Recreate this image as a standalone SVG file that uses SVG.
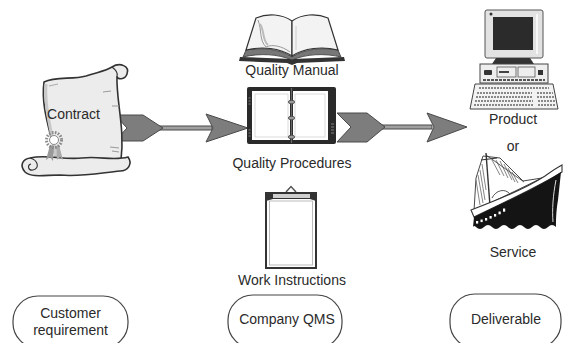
<svg xmlns="http://www.w3.org/2000/svg" width="563" height="343" viewBox="0 0 563 343">
<style>
text{font-family:"Liberation Sans",Arial,sans-serif;font-size:14px;fill:#2a2a2a;text-anchor:middle}
.arrow{fill:#7d7d7d;stroke:#4a4a4a;stroke-width:1}
.shaft{fill:#a0a0a0;stroke:#4a4a4a;stroke-width:1}
.pill{fill:#fff;stroke:#444;stroke-width:1.2}
</style>
<rect width="563" height="343" fill="#fff"/>

<g id="connectors">
  <g id="arrow-contract-qms">
    <rect class="shaft" x="158" y="126" width="54" height="4"/>
    <polygon class="arrow" points="115,115 143,115 163,128 143,141 115,141 127,128"/>
    <polygon class="arrow" points="206,114 248,128 206,142 213,128"/>
  </g>
  <g id="arrow-qms-deliverable">
    <rect class="shaft" x="380" y="125" width="52" height="4"/>
    <polygon class="arrow" points="337,113 367,113 385,127 367,142 337,142 351,127"/>
    <polygon class="arrow" points="427,113 467,127 427,142 434,127"/>
  </g>
</g>

<g id="node-contract">
  <path d="M44,82 C56,76 72,80 86,76 C98,72 106,71 112,67 C120,62 130,66 127,74 C125,80 117,80 117,76 C116,100 125,128 121,160 L56,162 C54,140 40,110 44,82 Z" fill="#ececec" stroke="#333" stroke-width="1.6"/>
  <path d="M46,84 C44,110 54,140 56,160" fill="none" stroke="#c8c8c8" stroke-width="3"/>
  <path d="M112,67 C116,70 118,73 117,76" fill="none" stroke="#333" stroke-width="1.2"/>
  <path d="M30,158 C46,154 62,160 82,158 C100,156 114,161 128,157 C133,164 128,171 120,171 C100,173 80,177 60,175 C45,175 32,178 25,172 C19,165 23,159 30,158 Z" fill="#ececec" stroke="#333" stroke-width="1.6"/>
  <path d="M30,158 C38,160 40,168 33,170 C28,171 27,165 31,164" fill="none" stroke="#333" stroke-width="1.1"/>
  <line x1="103" y1="92" x2="111" y2="91" stroke="#999" stroke-width="1"/>
  <line x1="112" y1="106" x2="119" y2="106" stroke="#999" stroke-width="1"/>
  <line x1="110" y1="147" x2="119" y2="148" stroke="#999" stroke-width="1"/>
  <line x1="112" y1="151" x2="119" y2="152" stroke="#999" stroke-width="1"/>
  <line x1="49" y1="86" x2="58" y2="84" stroke="#aaa" stroke-width="1"/>
  <polygon points="50,145 46,160 50,157 53,161 54,146" fill="#999"/>
  <polygon points="56,146 57,160 60,157 63,160 59,145" fill="#aaa"/>
  <circle cx="54" cy="140" r="7.5" fill="none" stroke="#8a8a8a" stroke-width="3" stroke-dasharray="1.6 1.4"/>
  <circle cx="54" cy="140" r="4.5" fill="#fff" stroke="#888" stroke-width="1"/>
  <text x="73.5" y="119">Contract</text>
</g>

<g id="node-quality-manual">
  <path d="M240,57 L292,59 L344,57 L345,61 L297,63 L292,65 L287,63 L239,61 Z" fill="#333"/>
  <path d="M246,50 C262,47 280,49 292,57 C304,49 322,47 338,50 L341,57 C324,53 306,54 292,60 C278,54 260,53 243,57 Z" fill="#777" stroke="#333" stroke-width="0.8"/>
  <path d="M256,18 C268,13 282,14 292,21 L292,56 C280,48 262,46 246,50 Z" fill="#f3f3f3" stroke="#333" stroke-width="1.2"/>
  <path d="M328,18 C316,13 302,14 292,21 L292,56 C304,48 322,46 338,50 Z" fill="#f3f3f3" stroke="#333" stroke-width="1.2"/>
  <path d="M258,20 C262,30 259,40 266,47 C272,44 282,46 290,52" fill="none" stroke="#999" stroke-width="1"/>
  <path d="M260,24 C265,32 262,40 268,45" fill="none" stroke="#bbb" stroke-width="2"/>
  <line x1="296" y1="26" x2="296" y2="50" stroke="#ccc" stroke-width="1"/>
  <text x="292" y="75">Quality Manual</text>
</g>

<g id="node-quality-procedures">
  <rect x="247" y="87" width="89" height="57" rx="2" fill="#2a2a2a"/>
  <rect x="252" y="91" width="38" height="49" fill="#fff"/>
  <rect x="293" y="91" width="35" height="49" fill="#fff"/>
  <rect x="255" y="94" width="33" height="43" fill="none" stroke="#c4c4c4" stroke-width="0.6"/>
  <rect x="295" y="94" width="30" height="43" fill="none" stroke="#c4c4c4" stroke-width="0.6"/>
  <line x1="291.5" y1="88" x2="291.5" y2="143" stroke="#666" stroke-width="1.2"/>
  <g fill="#9a9a9a" stroke="#444" stroke-width="0.8">
    <ellipse cx="291.5" cy="102" rx="3.2" ry="1.8"/>
    <ellipse cx="291.5" cy="118" rx="3.2" ry="1.8"/>
    <ellipse cx="291.5" cy="137" rx="3.2" ry="1.8"/>
  </g>
  <g stroke="#9a9a9a" stroke-width="0.8">
    <line x1="248.5" y1="98" x2="250.5" y2="98"/><line x1="248.5" y1="101" x2="250.5" y2="101"/><line x1="248.5" y1="104" x2="250.5" y2="104"/>
    <line x1="248.5" y1="130" x2="250.5" y2="130"/><line x1="248.5" y1="133" x2="250.5" y2="133"/><line x1="248.5" y1="136" x2="250.5" y2="136"/>
    <line x1="331" y1="124" x2="334" y2="124"/><line x1="331" y1="127" x2="334" y2="127"/><line x1="331" y1="130" x2="334" y2="130"/><line x1="331" y1="133" x2="334" y2="133"/>
  </g>
  <text x="292" y="168">Quality Procedures</text>
</g>

<g id="node-work-instructions">
  <path d="M286,192 L291,186.5 L296,192" fill="none" stroke="#555" stroke-width="1.5"/>
  <rect x="266" y="193" width="50" height="75" fill="#fff" stroke="#333" stroke-width="2"/>
  <path d="M266,193 L316,193 L316,201 L310,199 L273,199 L266,201 Z" fill="#333"/>
  <rect x="273" y="194" width="37" height="4" fill="#cfcfcf"/>
  <rect x="269.5" y="201" width="43" height="64" fill="#fff" stroke="#aaa" stroke-width="0.8"/>
  <text x="292" y="285">Work Instructions</text>
</g>

<g id="node-product">
  <rect x="485" y="10" width="58" height="48" rx="2" fill="#e2e2e2" stroke="#555" stroke-width="1"/>
  <rect x="493" y="17" width="40" height="33" fill="#2b2b2b"/>
  <circle cx="491" cy="14" r="1.5" fill="#333"/>
  <line x1="537" y1="14" x2="537" y2="54" stroke="#fff" stroke-width="1.5"/>
  <path d="M496,58 L530,58 L534,64 L492,64 Z" fill="#333"/>
  <rect x="480" y="64" width="68" height="19" fill="#eee" stroke="#444" stroke-width="1"/>
  <rect x="484" y="70" width="8" height="5" rx="1" fill="#333"/>
  <rect x="497" y="67" width="19" height="10" fill="none" stroke="#555" stroke-width="0.8"/>
  <rect x="499" y="71" width="10" height="2" fill="#444"/>
  <rect x="518" y="67" width="17" height="10" fill="none" stroke="#555" stroke-width="0.8"/>
  <rect x="538" y="70" width="5" height="5" fill="#333"/>
  <line x1="483" y1="80" x2="545" y2="80" stroke="#555" stroke-width="2" stroke-dasharray="3 1"/>
  <path d="M475,84 L553,84 L558,109 L470,109 Z" fill="#f2f2f2" stroke="#444" stroke-width="1"/>
  <g stroke="#666" stroke-width="1.6" stroke-dasharray="2 1">
    <line x1="479" y1="88" x2="549" y2="88"/>
    <line x1="477" y1="93" x2="532" y2="93"/>
    <line x1="476" y1="97" x2="532" y2="97"/>
    <line x1="475" y1="101" x2="533" y2="101"/>
    <line x1="474" y1="105" x2="533" y2="105"/>
    <line x1="537" y1="93" x2="553" y2="93"/>
    <line x1="537" y1="97" x2="554" y2="97"/>
    <line x1="538" y1="101" x2="555" y2="101"/>
    <line x1="538" y1="105" x2="556" y2="105"/>
  </g>
  <text x="513" y="124">Product</text>
</g>

<text id="label-or" x="513" y="151">or</text>

<g id="node-service">
  <path d="M474,211 L476,178 L483,156 L500,158 L523,181 L542,178 Z" fill="#fff" stroke="#333" stroke-width="0.9"/>
  <g stroke="#666" stroke-width="0.8">
    <line x1="476" y1="180" x2="480" y2="205"/>
    <line x1="478" y1="175" x2="483" y2="203"/>
    <line x1="480" y1="170" x2="485" y2="200"/>
    <line x1="482" y1="164" x2="486" y2="190"/>
    <line x1="492" y1="160" x2="500" y2="175"/>
    <line x1="496" y1="160" x2="504" y2="176"/>
    <line x1="500" y1="161" x2="508" y2="178"/>
    <line x1="504" y1="164" x2="512" y2="180"/>
    <line x1="508" y1="168" x2="515" y2="182"/>
    <line x1="512" y1="172" x2="518" y2="183"/>
  </g>
  <line x1="486" y1="153" x2="490" y2="206" stroke="#333" stroke-width="1.4"/>
  <line x1="481" y1="160" x2="497" y2="158" stroke="#333" stroke-width="1.2"/>
  <line x1="486" y1="155" x2="524" y2="182" stroke="#333" stroke-width="0.8"/>
  <path d="M492,198 C496,190 505,188 510,194" fill="none" stroke="#555" stroke-width="1"/>
  <path d="M471,210 C495,201 525,189 545,176 C552,171 558,167 562,165 L562,172 C545,183 510,200 474,217 Z" fill="#fff" stroke="#333" stroke-width="1.1"/>
  <path d="M474,217 C510,200 540,186 561,172 L558,200 C556,212 556,220 556,227 Q552,223 548,227 Q544,231 540,227 Q536,223 532,227 Q528,231 524,227 Q520,223 516,227 Q512,231 508,227 Q504,223 500,227 Q496,231 492,227 Q488,223 484,227 Q480,231 476,227 Q474,225 473,227 Z" fill="#141414"/>
  <path d="M556,180 C553,195 552,210 553,222" fill="none" stroke="#ddd" stroke-width="1"/>
  <g fill="#fff">
    <rect x="476" y="221" width="2.2" height="2.6"/>
    <rect x="480.5" y="219.5" width="2.2" height="2.6"/>
    <rect x="485" y="218" width="2.2" height="2.6"/>
    <rect x="489.5" y="216" width="2.2" height="2.6"/>
    <rect x="494" y="214" width="2.2" height="2.6"/>
    <rect x="498.5" y="211.5" width="2.2" height="2.8"/>
    <rect x="503" y="208.5" width="2.2" height="3.2"/>
  </g>
  <text x="513" y="257">Service</text>
</g>

<g id="node-customer">
  <rect class="pill" x="13" y="296" width="115" height="52" rx="25" ry="25"/>
  <text x="70.5" y="318">Customer</text>
  <text x="70.5" y="335">requirement</text>
</g>

<g id="node-company-qms">
  <rect class="pill" x="228" y="295" width="114" height="53" rx="25" ry="25"/>
  <text x="287" y="324">Company QMS</text>
</g>

<g id="node-deliverable">
  <rect class="pill" x="450" y="294" width="111" height="54" rx="25" ry="25"/>
  <text x="506" y="324">Deliverable</text>
</g>
</svg>
